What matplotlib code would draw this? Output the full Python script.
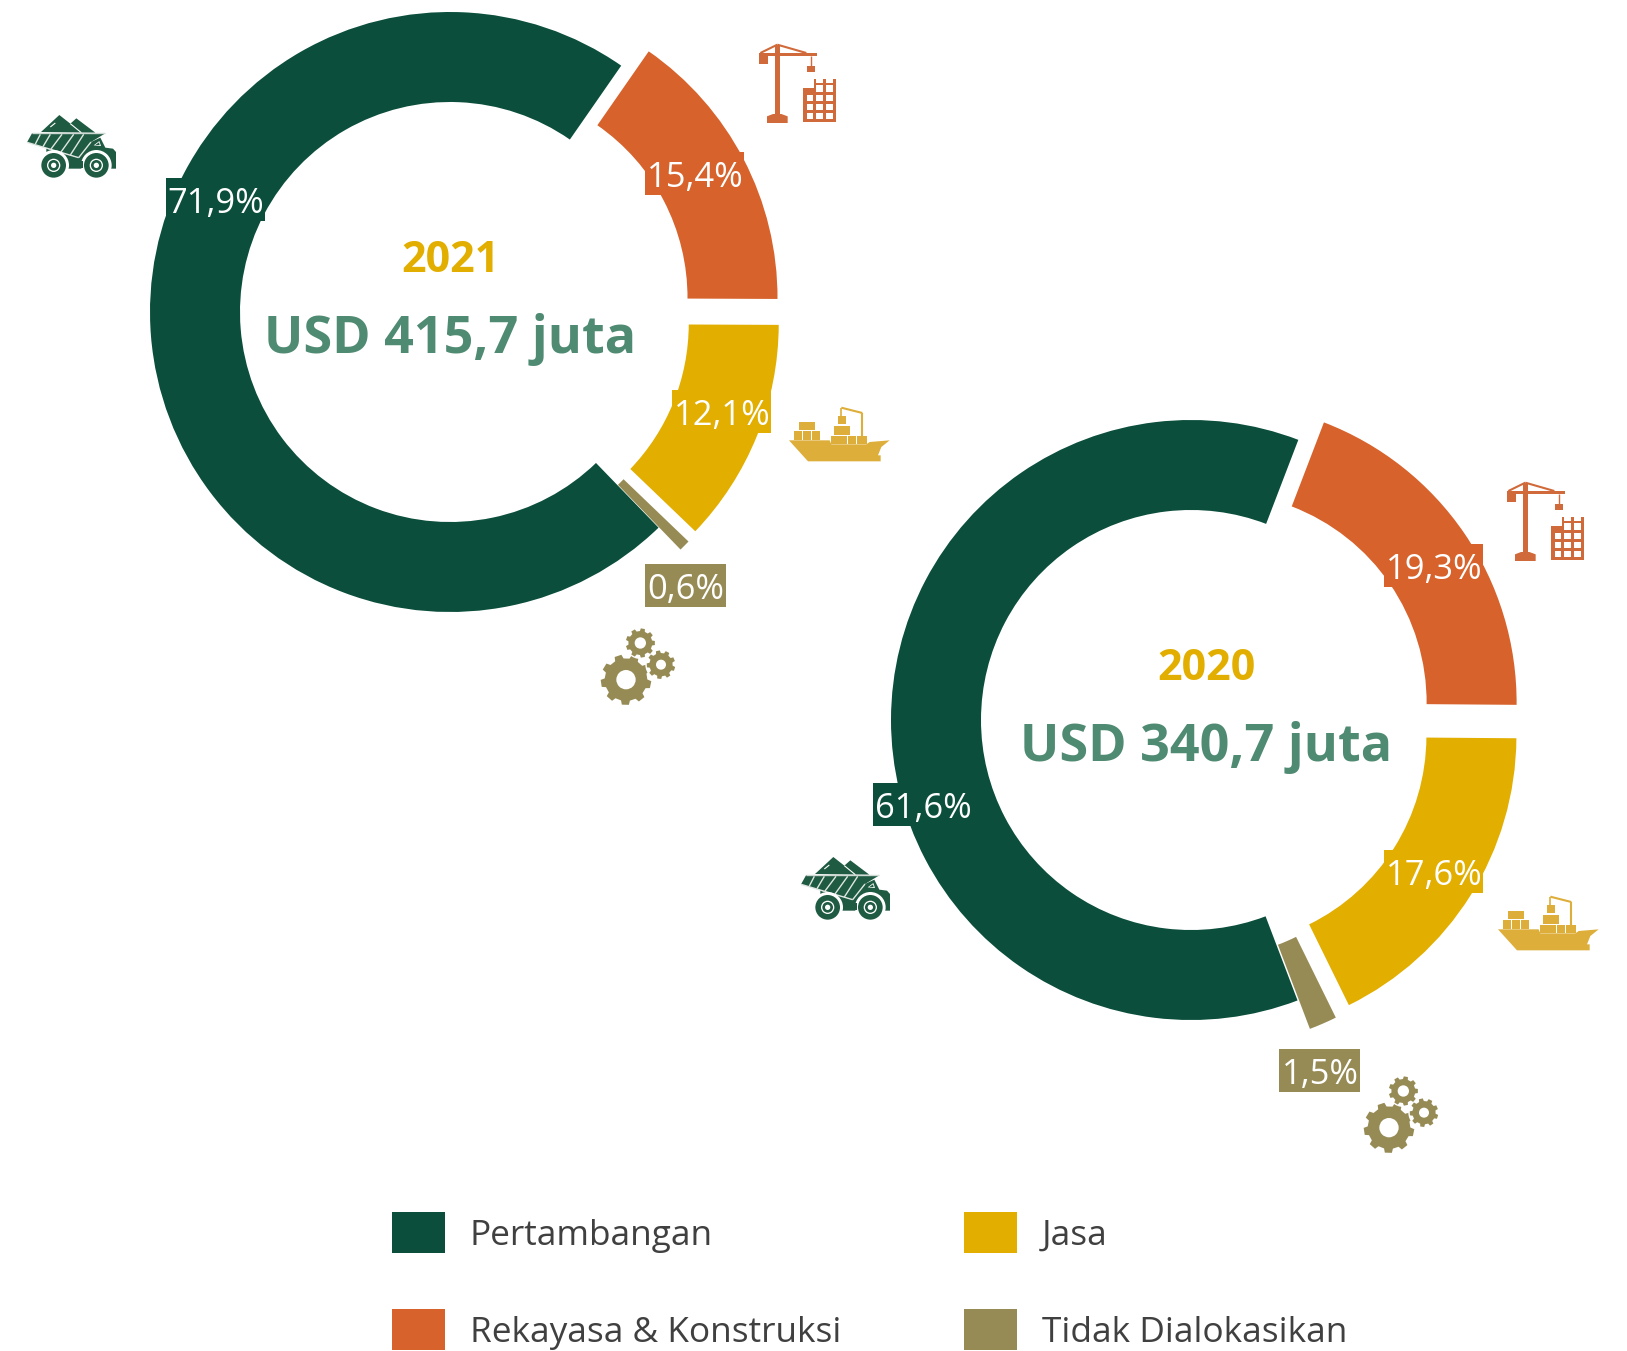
import numpy as np
import matplotlib
matplotlib.use('Agg')
from matplotlib import pyplot as plt
from matplotlib.patches import Polygon, Rectangle, Circle

plt.rcParams['font.family'] = ['Open Sans', 'DejaVu Sans']

W, H = 1627, 1351

categories = ['Pertambangan', 'Rekayasa & Konstruksi', 'Jasa', 'Tidak Dialokasikan']
values_2021 = [71.9, 15.4, 12.1, 0.6]
values_2020 = [61.6, 19.3, 17.6, 1.5]
labels_2021 = ['71,9%', '15,4%', '12,1%', '0,6%']
labels_2020 = ['61,6%', '19,3%', '17,6%', '1,5%']
year_2021, total_2021 = '2021', 'USD 415,7 juta'
year_2020, total_2020 = '2020', 'USD 340,7 juta'

colors = ['#0a4e3b', '#d7622b', '#e2ae00', '#978b55']
icon_colors = ['#1f5a42', '#d06a3a', '#deae3a', '#978b55']
YEAR_COLOR = '#e2ae00'
TOTAL_COLOR = '#4f8a72'
TEXT_COLOR = '#404040'

fig = plt.figure(figsize=(W / 100, H / 100), dpi=100)
ax = fig.add_axes([0, 0, 1, 1])

# icon parts are painted in call order
layer = [5]


def z():
    layer[0] += 1
    return layer[0]


def donut(center, values, labels, year, total, start, label_pos, text_x, year_y, total_y, explode):
    cx, cy = center
    ax.pie(values, colors=colors, center=(cx, H - cy), radius=300, startangle=start,
           counterclock=False, explode=explode, wedgeprops=dict(width=90, linewidth=0))
    for lab, pos, col in zip(labels, label_pos, colors):
        # the box sits a bit higher than the text, so it is its own patch
        half = 50 if len(lab) > 4 else 41
        ax.add_patch(Rectangle((pos[0] - half, H - pos[1] - 17), 2 * half - 1, 43, fc=col, ec='none', zorder=2))
        ax.text(pos[0], H - pos[1], lab, color='white', fontsize=24.8, ha='center', va='center', zorder=3)
    ax.text(text_x, H - year_y, year, color=YEAR_COLOR, fontsize=31, fontweight='bold', ha='center', va='center')
    ax.text(text_x, H - total_y, total, color=TOTAL_COLOR, fontsize=37.5, fontweight='bold', ha='center', va='center')


def mapper(x, y, x0, y0):
    # icon shapes are written in zoomed px (3x), so scale them back down
    return lambda p: (x + (p[0] - x0) / 3, H - (y + (p[1] - y0) / 3))


def poly(f, pts, col):
    ax.add_patch(Polygon([f(p) for p in pts], closed=True, fc=col, ec='none', zorder=z()))


def box(f, x1, y1, x2, y2, col):
    poly(f, [(x1, y1), (x2, y1), (x2, y2), (x1, y2)], col)


def line(f, a, b, col, lw):
    pa, pb = f(a), f(b)
    ax.plot([pa[0], pb[0]], [pa[1], pb[1]], color=col, lw=lw, zorder=z(), solid_capstyle='butt')


def circ(f, c, r, col):
    ax.add_patch(Circle(f(c), r / 3, fc=col, ec='none', zorder=z()))


def truck(x, y):
    f = mapper(x, y, 80, 284)
    c = icon_colors[0]
    poly(f, [(122, 335), (177, 284), (210, 310), (228, 294), (285, 337)], c)
    line(f, (150, 320), (165, 308), 'white', 0.8)
    line(f, (210, 310), (243, 337), 'white', 0.8)
    poly(f, [(138, 385), (235, 412), (272, 365), (300, 352), (315, 382), (338, 385), (347, 395),
             (347, 445), (138, 445)], c)
    poly(f, [(80, 366), (95, 339), (315, 339), (272, 365), (235, 412)], c)
    line(f, (95, 338), (315, 338), '#cfd9d4', 1)
    line(f, (80, 366), (235, 412), '#dfe7e3', 1)
    line(f, (235, 412), (272, 365), '#dfe7e3', 1)
    for bx, ex, ey in [(120, 105, 371), (150, 128, 379), (185, 152, 386), (220, 182, 395), (250, 210, 404)]:
        line(f, (bx, 342), (ex, ey), '#dfe7e3', 1)
    poly(f, [(280, 375), (297, 362), (302, 377)], 'white')
    poly(f, [(285, 374), (296, 366), (298, 374)], c)
    circ(f, (160, 435), 46, 'white')
    circ(f, (288, 435), 46, 'white')
    box(f, 210, 422, 247, 442, c)
    for wx in [160, 288]:
        circ(f, (wx, 435), 37, c)
        circ(f, (wx, 435), 20, 'white')
        circ(f, (wx, 435), 16, c)
        circ(f, (wx, 435), 8, 'white')


def crane(x, y):
    f = mapper(x, y, 598, 73)
    c = icon_colors[1]
    box(f, 645, 75, 660, 285, c)
    poly(f, [(622, 310), (622, 290), (640, 283), (665, 283), (684, 290), (684, 310)], c)
    box(f, 598, 100, 772, 110, c)
    box(f, 598, 110, 625, 132, c)
    line(f, (754, 110), (754, 140), c, 1)
    box(f, 742, 140, 767, 158, c)
    line(f, (653, 75), (740, 100), c, 1.5)
    line(f, (653, 75), (602, 100), c, 1.5)
    poly(f, [(730, 205), (762, 205), (762, 178), (770, 178), (770, 190), (790, 190), (790, 178), (798, 178),
             (798, 190), (820, 190), (820, 178), (830, 178), (830, 308), (730, 308)], c)
    for top, bot in [(225, 245), (253, 272), (280, 298)]:
        for left, right in [(742, 760), (770, 790), (798, 820)]:
            box(f, left, top, right, bot, 'white')
    for left, right in [(770, 790), (798, 820)]:
        box(f, left, 195, right, 217, 'white')


def ship(x, y):
    f = mapper(x, y, 628, 80)
    c = icon_colors[2]
    poly(f, [(628, 180), (750, 180), (755, 192), (860, 192), (870, 185), (930, 180), (905, 200), (895, 225),
             (903, 225), (903, 243), (685, 243)], c)
    for x1, y1, n in [(644, 153, 3), (657, 125, 2), (753, 166, 3), (762, 138, 2), (775, 107, 1)]:
        for i in range(n):
            box(f, x1 + i * 26, y1, x1 + i * 26 + 24, y1 + 25, c)
    box(f, 833, 168, 862, 192, c)
    line(f, (785, 82), (848, 98), c, 1.5)
    line(f, (848, 98), (848, 168), c, 1.5)
    line(f, (785, 82), (785, 107), c, 1.2)


def gear(f, c, r_out, r_root, r_hole, teeth, rot=0.0):
    pts = []
    step = 2 * np.pi / teeth
    for i in range(teeth):
        a = rot + i * step
        for da, r in [(-0.30, r_root), (-0.20, r_out), (0.20, r_out), (0.30, r_root)]:
            pts.append((c[0] + r * np.cos(a + da * step), c[1] + r * np.sin(a + da * step)))
    poly(f, pts, icon_colors[3])
    circ(f, c, r_hole, 'white')


def gears(x, y):
    f = mapper(x, y, 62, 745)
    gear(f, (137, 900), 76, 64, 29, 9, 0.2)
    circ(f, (180, 790), 48, 'white')
    circ(f, (242, 855), 47, 'white')
    gear(f, (180, 790), 44, 36, 17, 9)
    gear(f, (242, 855), 43, 35, 15, 9, 0.3)


donut((450, 312), values_2021, labels_2021, year_2021, total_2021, 314.04,
      [(216, 204), (695, 178), (722, 416), (686, 590)], 450, 260, 339, [0, 31, 31, 31])
donut((1191, 720), values_2020, labels_2020, year_2020, total_2020, 290.8,
      [(923, 809), (1434, 570), (1434, 876), (1320, 1075)], 1206, 668, 747, [0, 31, 30, 31])

for p in [(27, 115), (801, 857)]:
    truck(*p)
for p in [(759, 44), (1507, 482)]:
    crane(*p)
for p in [(789, 407), (1498, 896)]:
    ship(*p)
for p in [(601, 628), (1364, 1076)]:
    gears(*p)

# legend, two columns, second row runs into the bottom edge
legend_pos = [(392, 1212), (392, 1309), (964, 1212), (964, 1309)]
for cat, col, (lx, ly) in zip(categories, colors, legend_pos):
    ax.add_patch(Rectangle((lx, H - ly - 41), 53, 41, fc=col, ec='none'))
    ax.text(lx + 78, H - ly - 24, cat, color=TEXT_COLOR, fontsize=25.4, ha='left', va='center')

ax.set_xlim(0, W)
ax.set_ylim(0, H)
ax.set_aspect('auto')
ax.axis('off')

fig.savefig('out.png', dpi=100, facecolor='white')
